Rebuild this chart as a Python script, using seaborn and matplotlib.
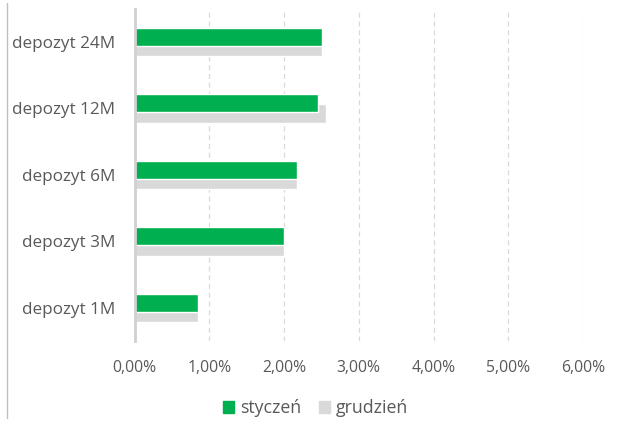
import matplotlib
matplotlib.use("Agg")
import matplotlib.pyplot as plt
import matplotlib.lines as mlines
from matplotlib.patches import Patch
from matplotlib.ticker import FuncFormatter
import seaborn as sns

categories = ["depozyt 24M", "depozyt 12M", "depozyt 6M", "depozyt 3M", "depozyt 1M"]
styczen = [2.51, 2.45, 2.18, 2.00, 0.85]
grudzien = [2.51, 2.56, 2.18, 2.00, 0.85]
xticks = [0, 1, 2, 3, 4, 5, 6]

green = "#00B050"
grey = "#D9D9D9"
txt = "#595959"

sns.set_theme(style="white")
plt.rcParams["font.family"] = ["Open Sans", "DejaVu Sans"]

fig = plt.figure(figsize=(6.23, 4.21), dpi=100)
ax = fig.add_axes([0.2159, 0.19, 0.9358 - 0.2159, 0.7892])

# grudzien first (behind), then styczen on top
sns.barplot(x=grudzien, y=categories, color=grey, width=0.28, saturation=1, ax=ax)
n = len(ax.patches)
for p in ax.patches:
    p.set_y(p.get_y() + 0.075)
sns.barplot(x=styczen, y=categories, color=green, width=0.27, saturation=1, ax=ax)
for p in ax.patches[n:]:
    p.set_y(p.get_y() - 0.075)

ax.set_xlim(0, 6)
ax.set_ylim(4.5, -0.5)
ax.set_xticks(xticks)
ax.xaxis.set_major_formatter(FuncFormatter(lambda v, _: f"{v:.2f}%".replace(".", ",")))
ax.grid(axis="x", color="#D9D9D9", linestyle=(0, (4, 3)), linewidth=0.9)
ax.set_axisbelow(True)
for s in ["top", "right", "bottom"]:
    ax.spines[s].set_visible(False)
ax.spines["left"].set_color("#D0D0D0")
ax.spines["left"].set_linewidth(2)
ax.tick_params(axis="both", length=0, colors=txt)
ax.tick_params(axis="x", pad=14, labelsize=11.3)
ax.tick_params(axis="y", pad=14, labelsize=12.3)
ax.set_xlabel("")
ax.set_ylabel("")

handles = [Patch(color=green, label="styczeń"), Patch(color=grey, label="grudzień")]
fig.legend(handles=handles, loc="center", bbox_to_anchor=(0.507, 0.03), ncol=2,
           frameon=False, fontsize=12.8, handlelength=0.6, handleheight=0.6,
           handletextpad=0.35, columnspacing=1.0, labelcolor=txt)

fig.add_artist(mlines.Line2D([0.0112, 0.0112], [0.007, 0.993], color="#BFBFBF", linewidth=1))

fig.savefig("out.png", dpi=100)
